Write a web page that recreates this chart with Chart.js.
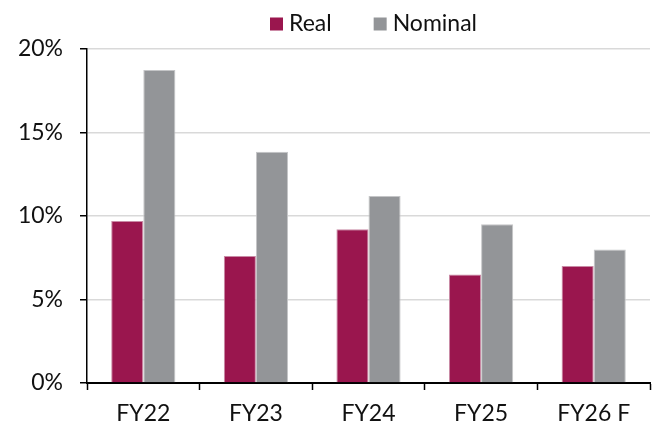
<!DOCTYPE html>
<html>
<head>
<meta charset="utf-8">
<script src="https://cdn.jsdelivr.net/npm/chart.js@4/dist/chart.umd.min.js"></script>
<style>
  html, body { margin: 0; padding: 0; background: #ffffff; }
  #wrap { width: 654px; height: 424px; }
</style>
</head>
<body>
<div id="wrap"><canvas id="growth"></canvas></div>
<script>
// Fiscal years shown on the category axis
const categories = ['FY22', 'FY23', 'FY24', 'FY25', 'FY26 F'];
// Year-on-year growth, percent
const realGrowth = [9.7, 7.6, 9.2, 6.5, 7.0];
const nominalGrowth = [18.75, 13.85, 11.2, 9.5, 8.0];
// Value-axis ticks, percent
const yTicks = [0, 5, 10, 15, 20];

const FONT = 'Lato, "Open Sans", sans-serif';
const REAL_COLOR = '#9A164E';
const NOMINAL_COLOR = '#939598';

// Simple legend: square swatch, small gap, label, drawn above the plot
const topLegend = {
  id: 'topLegend',
  afterDraw(chart) {
    const ctx = chart.ctx;
    const sets = chart.data.datasets;
    let x = 270;
    const cy = 24;
    const box = 13;
    ctx.save();
    ctx.font = '23px ' + FONT;
    ctx.textBaseline = 'middle';
    ctx.textAlign = 'left';
    sets.forEach(ds => {
      ctx.fillStyle = ds.backgroundColor;
      ctx.fillRect(x, cy - box / 2, box, box);
      ctx.fillStyle = '#111111';
      ctx.fillText(ds.label, x + box + 6, cy);
      x += box + 6 + ctx.measureText(ds.label).width + 42;
    });
    ctx.restore();
  }
};

new Chart(document.getElementById('growth'), {
  type: 'bar',
  data: {
    labels: categories,
    datasets: [
      {
        label: 'Real',
        data: realGrowth,
        backgroundColor: REAL_COLOR,
        borderColor: '#c98aa5',
        borderWidth: { top: 1, left: 1, right: 1, bottom: 0 },
        barPercentage: 1.0,
        categoryPercentage: 0.57
      },
      {
        label: 'Nominal',
        data: nominalGrowth,
        backgroundColor: NOMINAL_COLOR,
        borderColor: '#c4c5c7',
        borderWidth: { top: 1, left: 1, right: 1, bottom: 0 },
        barPercentage: 1.0,
        categoryPercentage: 0.57
      }
    ]
  },
  options: {
    responsive: true,
    maintainAspectRatio: false,
    animation: false,
    devicePixelRatio: 1,
    layout: { padding: { top: 49, right: 4, left: 0, bottom: 0 } },
    plugins: {
      legend: { display: false },
      tooltip: { enabled: false }
    },
    scales: {
      x: {
        offset: true,
        grid: {
          display: true,
          offset: true,
          drawOnChartArea: false,
          drawTicks: true,
          tickLength: 7,
          tickColor: '#000000',
          tickWidth: 1.5
        },
        border: { display: true, color: '#000000', width: 2 },
        ticks: {
          color: '#111111',
          font: { family: FONT, size: 23 },
          padding: 10,
          maxRotation: 0,
          autoSkip: false
        },
        afterFit(scale) { scale.height = 41; }
      },
      y: {
        min: 0,
        max: 20,
        afterBuildTicks(scale) {
          scale.ticks = yTicks.map(v => ({ value: v }));
        },
        grid: {
          color: '#d9d9d9',
          lineWidth: 1.5,
          drawTicks: true,
          tickLength: 7,
          tickColor: '#000000',
          tickWidth: 1.5
        },
        border: { display: true, color: '#000000', width: 1.5 },
        ticks: {
          color: '#111111',
          font: { family: FONT, size: 23 },
          padding: 17,
          callback: v => v + '%'
        },
        afterFit(scale) { scale.width = 87; }
      }
    }
  },
  plugins: [topLegend]
});
</script>
</body>
</html>
